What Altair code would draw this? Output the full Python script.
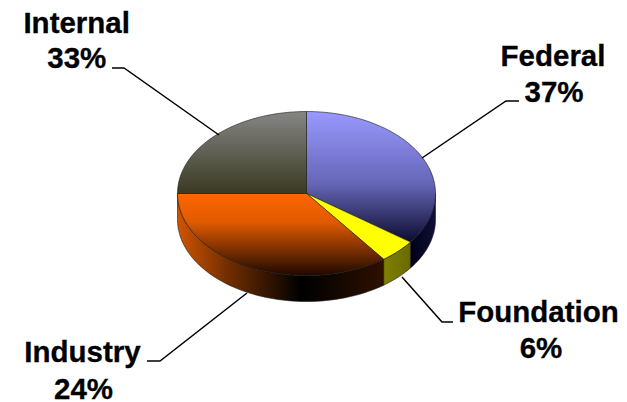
import math
import altair as alt
import pandas as pd

# Wedge shares (percent of the circle, clockwise from 12 o'clock)
slices = ["Federal", "Foundation", "Industry", "Internal"]
shares = [35.1, 4.7, 35.2, 25.0]

label_names = ["Internal", "33%", "Federal", "37%", "Foundation", "6%", "Industry", "24%"]
label_x = [76.7, 76.8, 553, 554, 538.5, 541, 82.5, 83.5]
label_y = [32.7, 68.3, 66, 101.7, 322, 357.7, 361.7, 399]

leader_ids = ["Internal"] * 3 + ["Federal"] * 3 + ["Foundation"] * 3 + ["Industry"] * 3
leader_x = [112, 124, 219, 519, 506, 422, 453, 442, 402, 147, 160, 247]
leader_y = [68, 68, 135, 101, 101, 158, 322, 322, 277, 361, 361, 293]

CX, CY, RX, RY, DEPTH = 306.5, 193.5, 129, 82, 26
W, H = 611, 394


def grad(stops, horizontal=False):
    return alt.Gradient(
        gradient="linear",
        stops=[alt.GradientStop(color=c, offset=o) for o, c in stops],
        x1=0, y1=0,
        x2=1 if horizontal else 0,
        y2=0 if horizontal else 1,
    )


def pt(deg, dy=0.0):
    a = math.radians(deg)
    return CX + RX * math.sin(a), CY - RY * math.cos(a) + dy


def arc(a0, a1, dy=0.0):
    n = max(2, int(abs(a1 - a0) / 2) + 1)
    return [pt(a0 + (a1 - a0) * i / n, dy) for i in range(n + 1)]


xs = alt.Scale(domain=[8, 8 + W], nice=False, zero=False)
ys = alt.Scale(domain=[8, 8 + H], nice=False, zero=False, reverse=True)


def poly(points, fill, stroke="#1a1a1a", sw=0.6):
    df = pd.DataFrame({"x": [p[0] for p in points] + [points[0][0]],
                       "y": [p[1] for p in points] + [points[0][1]]})
    df["i"] = range(len(df))
    return alt.Chart(df).mark_line(fill=fill, stroke=stroke, strokeWidth=sw, interpolate="linear").encode(
        x=alt.X("x:Q", scale=xs, axis=None),
        y=alt.Y("y:Q", scale=ys, axis=None),
        order="i:Q",
    )


# wedge boundaries
edges = [0.0]
for s in shares:
    edges.append(edges[-1] + s * 3.6)

top_fills = [
    grad([(0, "#9999FF"), (0.55, "#6666B8"), (1, "#0C0C30")]),
    "#FFFF00",
    grad([(0, "#FF6600"), (0.35, "#E05A00"), (1, "#1E0800")]),
    grad([(0, "#858585"), (1, "#3A3A22")]),
]
side_fills = [
    grad([(0, "#000018"), (1, "#101038")], True),
    grad([(0, "#808000"), (1, "#6A6A00")], True),
    grad([(0, "#D05400"), (0.25, "#702D00"), (0.6, "#000000"), (1, "#2E1000")], True),
]

layers = []
# visible rim, lower half of the disc: right to left
side_ranges = [(90, edges[1]), (edges[1], edges[2]), (edges[2], 270)]
for (a0, a1), f in zip(side_ranges, side_fills):
    pts = arc(a0, a1) + arc(a1, a0, DEPTH)
    layers.append(poly(pts, f))

# top faces
for k, f in enumerate(top_fills):
    pts = [(CX, CY)] + arc(edges[k], edges[k + 1])
    layers.append(poly(pts, f))

leaders = pd.DataFrame({"id": leader_ids, "x": leader_x, "y": leader_y})
leaders["i"] = range(len(leaders))
layers.append(
    alt.Chart(leaders).mark_line(color="#000000", strokeWidth=1.5).encode(
        x=alt.X("x:Q", scale=xs, axis=None),
        y=alt.Y("y:Q", scale=ys, axis=None),
        detail="id:N",
        order="i:Q",
    )
)

labels = pd.DataFrame({"t": label_names, "x": label_x, "y": label_y})
layers.append(
    alt.Chart(labels).mark_text(
        font="Liberation Sans", fontWeight="bold", fontSize=29.5, color="#000000",
        stroke="#000000", strokeWidth=0.3,
        align="center", baseline="alphabetic",
    ).encode(
        x=alt.X("x:Q", scale=xs, axis=None),
        y=alt.Y("y:Q", scale=ys, axis=None),
        text="t:N",
    )
)

chart = (
    alt.layer(*layers)
    .properties(width=W, height=H, padding=0, background="#FFFFFF")
    .configure_view(stroke=None)
)
chart.save("out.html", embed_options={"renderer": "svg", "actions": False})
